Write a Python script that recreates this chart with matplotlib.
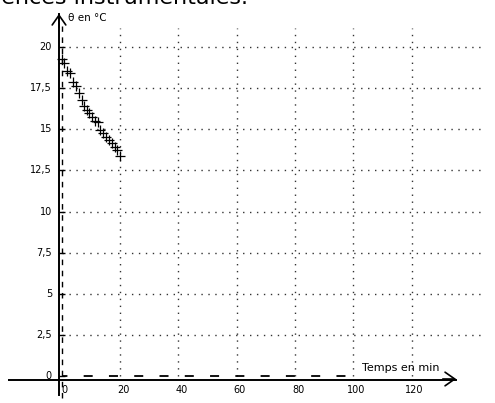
import matplotlib
matplotlib.use("Agg")
import matplotlib.pyplot as plt

# data (time in min, temperature in °C)
temps_min = [0.0, 0.9, 1.9, 2.8, 3.8, 4.8, 5.9, 6.9, 7.7, 8.6, 9.5,
             10.4, 11.4, 12.3, 13.1, 14.3, 15.2, 16.2, 17.1, 18.2, 19.1, 20.0]
theta_c = [19.25, 19.0, 18.56, 18.4, 17.9, 17.63, 17.22, 16.78, 16.41, 16.17, 15.97,
           15.73, 15.52, 15.46, 14.95, 14.75, 14.51, 14.35, 14.15, 13.94, 13.74, 13.37]
x_ticks = [0, 20, 40, 60, 80, 100, 120]
y_ticks = [0, 2.5, 5, 7.5, 10, 12.5, 15, 17.5, 20]
y_tick_labels = ["0", "2,5", "5", "7,5", "10", "12,5", "15", "17,5", "20"]

W, H = 495, 403
fig = plt.figure(figsize=(W / 100, H / 100), dpi=100)

# pixel <-> data mapping
x0px, xs = 61.7, 2.915     # px of t=0, px per minute
y0px, ys = 376.0, 16.45    # px of T=0, px per degree
def tx(px):
    return (px - x0px) / xs
def ty(py):
    return (y0px - py) / ys

L, R, T, B = 8, 490, 10, 400
ax = fig.add_axes([L / W, 1 - B / H, (R - L) / W, (B - T) / H])
ax.set_xlim(tx(L), tx(R))
ax.set_ylim(ty(B), ty(T))
ax.axis("off")

grid_c = "#333333"
# horizontal dotted grid
for yv in y_ticks[1:]:
    ax.plot([0, tx(482)], [yv, yv], color=grid_c, lw=1.0, ls=(0, (1, 4)))
# vertical dotted grid
for xv in x_ticks[1:]:
    ax.plot([xv, xv], [0, ty(28)], color=grid_c, lw=1.0, ls=(0, (1, 4)))

# dashed lines at x=0 and y=0
ax.plot([0, 0], [ty(398), ty(26)], color="black", lw=1.0, ls=(0, (4, 4)))
ax.plot([0, 100], [0, 0], color="black", lw=1.3, ls=(2, (5, 9)))

# solid axes with open arrows
ax.plot([tx(59), tx(59)], [ty(395), ty(14)], color="black", lw=1.4)
ax.annotate("", xy=(tx(59), ty(11)), xytext=(tx(59), ty(30)),
            arrowprops=dict(arrowstyle="->,head_length=0.5,head_width=0.35",
                            lw=1.2, color="black", mutation_scale=14))
ax.plot([tx(8), tx(456)], [ty(380), ty(380)], color="black", lw=1.4)
ax.annotate("", xy=(tx(459), ty(379)), xytext=(tx(440), ty(379)),
            arrowprops=dict(arrowstyle="->,head_length=0.5,head_width=0.35",
                            lw=1.2, color="black", mutation_scale=14))

# small ticks on x=0
ax.plot([0] * len(y_ticks), y_ticks, ls="none", marker="_", ms=5, mew=1.0, color="black")

# tick labels
for yv, lab in zip(y_ticks, y_tick_labels):
    ax.text(tx(52), yv, lab, ha="right", va="center", fontsize=7, color="black")
for xv in x_ticks:
    ax.text(xv + tx(64) - tx(61.7) + 0.3, ty(390), str(xv), ha="center", va="center",
            fontsize=7, color="black")

# axis titles
ax.text(tx(68), ty(18), "θ en °C", ha="left", va="center", fontsize=7.5, color="black")
ax.text(tx(362), ty(373), "Temps en min", ha="left", va="bottom", fontsize=8, color="black")

# data
ax.plot(temps_min, theta_c, ls="none", marker="+", ms=6.5, mew=0.9, color="black")

# partial heading cut off at the top (as in the scanned reference)
fig.text(-0.01, 1 - 4 / H, "iences instrumentales.", ha="left", va="baseline",
         fontsize=16, color="black")

fig.savefig("out.png", dpi=100)
